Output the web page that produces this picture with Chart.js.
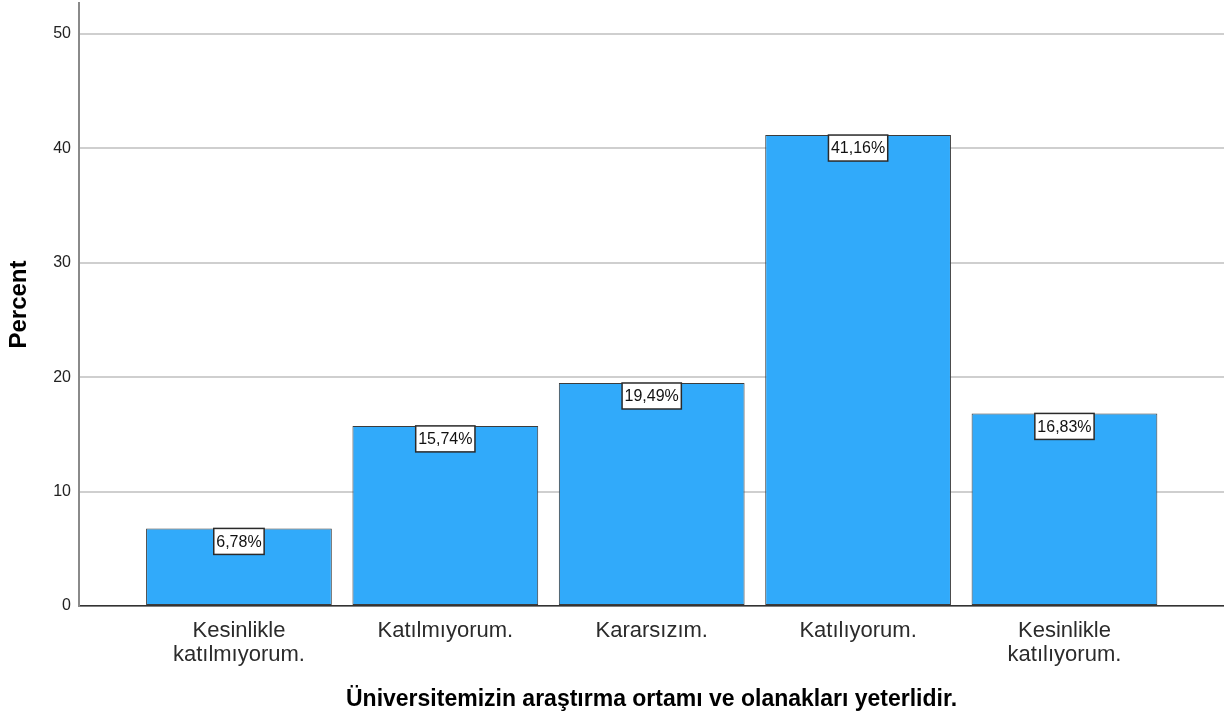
<!DOCTYPE html>
<html>
<head>
<meta charset="utf-8">
<script src="https://cdn.jsdelivr.net/npm/chart.js@4"></script>
<style>
  html, body { margin: 0; padding: 0; background: #fff; }
  #wrap { width: 1224px; height: 717px; position: relative; }
</style>
</head>
<body>
<div id="wrap"><canvas id="chart"></canvas></div>
<script>
const categories = [
    ['Kesinlikle', 'katılmıyorum.'],
    'Katılmıyorum.',
    'Kararsızım.',
    'Katılıyorum.',
    ['Kesinlikle', 'katılıyorum.']
];
const percents = [6.78, 15.74, 19.49, 41.16, 16.83];
const yTicks = [0, 10, 20, 30, 40, 50];
const xTitle = 'Üniversitemizin araştırma ortamı ve olanakları yeterlidir.';
const yTitle = 'Percent';

const fontFamily = "Arial, 'Liberation Sans', sans-serif";
const barColor = 'rgb(49, 170, 250)';

// value boxes sitting at the top of each bar
const valueBoxes = {
    id: 'valueBoxes',
    afterDatasetsDraw(chart) {
        const ctx = chart.ctx;
        const meta = chart.getDatasetMeta(0);
        ctx.save();
        ctx.font = '16px ' + fontFamily;
        ctx.textAlign = 'center';
        ctx.textBaseline = 'middle';
        meta.data.forEach((bar, i) => {
            const text = percents[i].toFixed(2).replace('.', ',') + '%';
            const w = ctx.measureText(text).width + 5;
            const h = 26;
            const x = bar.x - w / 2;
            const y = bar.y;
            ctx.fillStyle = '#ffffff';
            ctx.fillRect(x, y, w, h);
            ctx.lineWidth = 1.5;
            ctx.strokeStyle = '#2a2a2a';
            ctx.strokeRect(x, y, w, h);
            ctx.fillStyle = '#111111';
            ctx.fillText(text, bar.x, y + h / 2 + 1);
        });
        ctx.restore();
    }
};

const points = percents.map((v, i) => ({ x: i + 1, y: v }));

new Chart(document.getElementById('chart'), {
    type: 'bar',
    data: {
        datasets: [{
            data: points,
            backgroundColor: barColor,
            borderColor: '#3c3c3c',
            borderWidth: 1,
            borderSkipped: false,
            barPercentage: 0.9,
            categoryPercentage: 1.0,
        }]
    },
    options: {
        responsive: true,
        maintainAspectRatio: false,
        animation: false,
        layout: { padding: { top: 3, right: 0, left: 0, bottom: 0 } },
        plugins: {
            legend: { display: false },
            tooltip: { enabled: false },
        },
        scales: {
            x: {
                type: 'linear',
                offset: false,
                min: 0.225,
                max: 5.773,
                afterBuildTicks: (scale) => {
                    scale.ticks = categories.map((c, i) => ({ value: i + 1 }));
                },
                afterFit: (scale) => {
                    scale.height = 111;
                    scale.paddingLeft = 0;
                    scale.paddingRight = 0;
                },
                grid: { display: false, drawTicks: false },
                border: { display: true, color: '#333333', width: 1.5 },
                ticks: {
                    color: '#2b2b2b',
                    font: { family: fontFamily, size: 22, lineHeight: 1.1 },
                    padding: 13,
                    maxRotation: 0,
                    autoSkip: false,
                    callback: (value) => categories[value - 1],
                },
                title: {
                    display: true,
                    text: xTitle,
                    color: '#000000',
                    font: { family: fontFamily, size: 23, weight: 'bold' },
                    padding: { top: 0, bottom: 4 },
                },
            },
            y: {
                min: 0,
                max: 52.7,
                afterBuildTicks: (scale) => {
                    scale.ticks = yTicks.map(v => ({ value: v }));
                },
                afterFit: (scale) => {
                    scale.width = 79;
                    scale.paddingTop = 0;
                    scale.paddingBottom = 0;
                },
                grid: { color: '#cfcfcf', lineWidth: 2, drawTicks: false },
                border: { display: true, color: '#8a8a8a', width: 2 },
                ticks: {
                    color: '#222222',
                    font: { family: fontFamily, size: 16 },
                    padding: 8,
                },
                title: {
                    display: true,
                    text: yTitle,
                    color: '#000000',
                    font: { family: fontFamily, size: 24, weight: 'bold' },
                    padding: { top: 5, bottom: 0 },
                },
            }
        }
    },
    plugins: [valueBoxes]
});
</script>
</body>
</html>
